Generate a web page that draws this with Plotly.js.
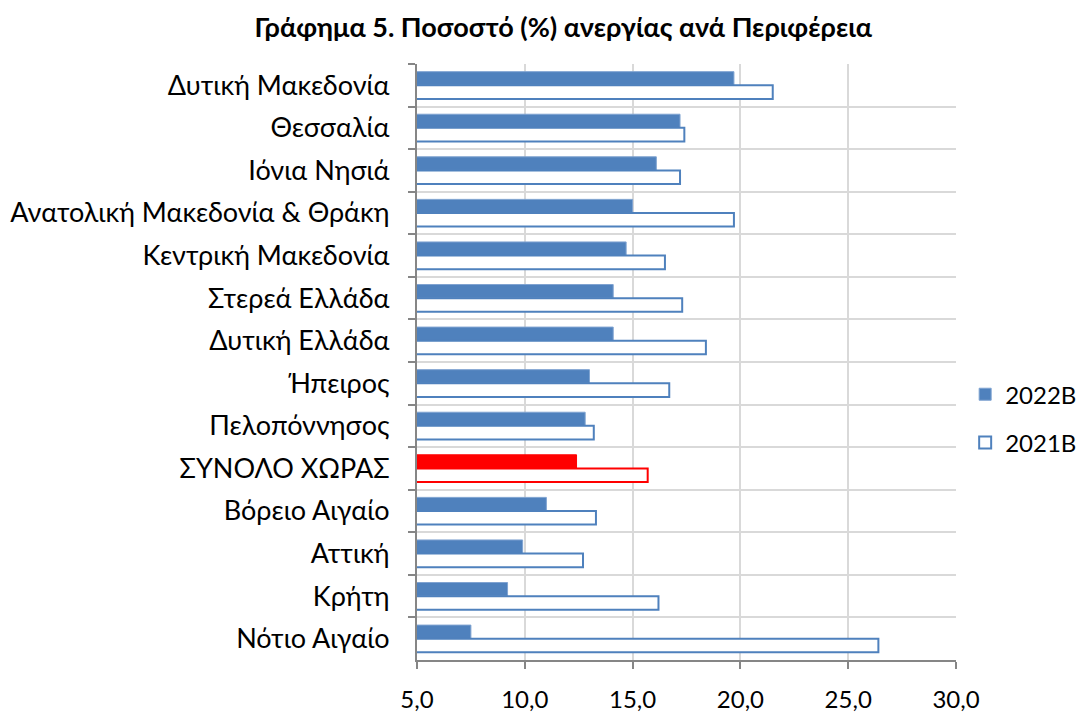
<!DOCTYPE html>
<html>
<head>
<meta charset="utf-8">
<script src="https://cdn.plot.ly/plotly-3.0.1.min.js"></script>
<style>html,body{margin:0;padding:0;background:#fff;}#chart{width:1077px;height:715px;}</style>
</head>
<body>
<div id="chart"></div>
<script>
const regions = ["Δυτική Μακεδονία","Θεσσαλία","Ιόνια Νησιά","Ανατολική Μακεδονία & Θράκη","Κεντρική Μακεδονία","Στερεά Ελλάδα","Δυτική Ελλάδα","Ήπειρος","Πελοπόννησος","ΣΥΝΟΛΟ ΧΩΡΑΣ","Βόρειο Αιγαίο","Αττική","Κρήτη","Νότιο Αιγαίο"];
const values2022 = [19.7,17.2,16.1,15.0,14.7,14.1,14.1,13.0,12.8,12.4,11.0,9.9,9.2,7.5];
const values2021 = [21.5,17.4,17.2,19.7,16.5,17.3,18.4,16.7,13.2,15.7,13.3,12.7,16.2,26.4];
const totalLabel = "ΣΥΝΟΛΟ ΧΩΡΑΣ";

const BLUE = "#4F81BD", RED = "#FF0000";
const font = "Lato, 'Open Sans', sans-serif";
const fillColors = regions.map(r => r === totalLabel ? RED : BLUE);
const lineColors2022 = regions.map(r => r === totalLabel ? RED : "#7FA3D1");

const data = [
  {type:"bar", orientation:"h", name:"2022B", y:regions, x:values2022,
   legendgroup:"a",
   marker:{color:fillColors, line:{color:lineColors2022, width:1}}},
  {type:"bar", orientation:"h", name:"2021B", y:regions, x:values2021,
   legendgroup:"b",
   marker:{color:"#FFFFFF", line:{color:fillColors, width:2}}}
];

const layout = {
  width:1077, height:715,
  margin:{l:417, r:121, t:64, b:55, autoexpand:false},
  paper_bgcolor:"#fff", plot_bgcolor:"#fff",
  separators:", ",
  barmode:"group", bargap:0.36, bargroupgap:0,
  showlegend:true,
  title:{text:"<b>Γράφημα 5. Ποσοστό (%) ανεργίας ανά Περιφέρεια</b>",
         font:{family:font, size:27, color:"#000"}, x:0.523, xanchor:"center", y:0.962, yanchor:"middle"},
  xaxis:{range:[5,30], dtick:5, tick0:5, tickformat:".1f",
         showgrid:true, gridcolor:"#D9D9D9", gridwidth:2,
         showline:true, linecolor:"#868686", linewidth:2,
         ticks:"outside", ticklen:7, tickwidth:2, tickcolor:"#868686",
         ticklabelstandoff:10,
         tickfont:{family:font, size:24, color:"#000"}, zeroline:false, fixedrange:true},
  yaxis:{autorange:"reversed", type:"category", tickson:"boundaries",
         showgrid:true, gridcolor:"#D9D9D9", gridwidth:2,
         showline:true, linecolor:"#868686", linewidth:2,
         ticks:"outside", ticklen:7, tickwidth:2, tickcolor:"#868686",
         ticklabelstandoff:20,
         tickfont:{family:font, size:27, color:"#000"}, fixedrange:true},
  legend:{x:1.017, xanchor:"left", y:0.405, yanchor:"middle",
          traceorder:"grouped", tracegroupgap:14,
          font:{family:font, size:24, color:"#000"}, bgcolor:"rgba(0,0,0,0)"}
};

Plotly.newPlot("chart", data, layout, {displayModeBar:false, staticPlot:true});
</script>
</body>
</html>
